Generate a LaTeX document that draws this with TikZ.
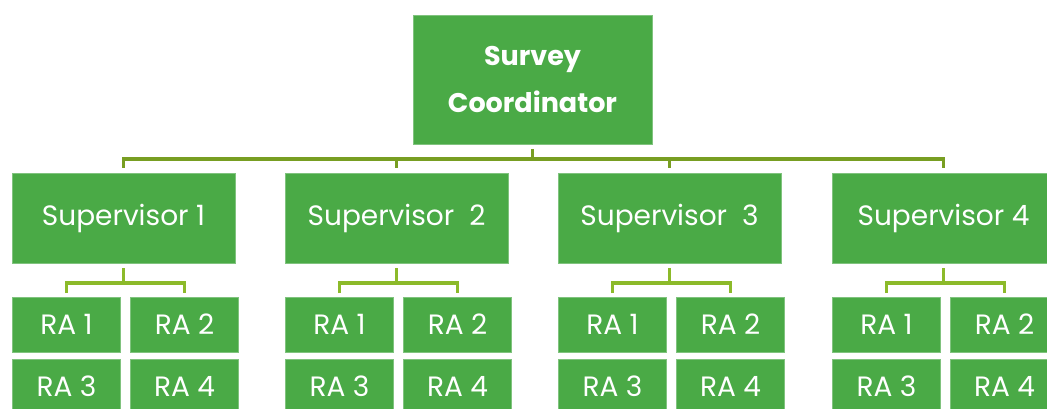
\documentclass[tikz,border=0pt]{standalone}
\usepackage{fontspec}
\setmainfont{Poppins}
\definecolor{boxgreen}{HTML}{4AAA46}
\definecolor{topline}{HTML}{789E22}
\definecolor{subline}{HTML}{8CBA2A}
\tikzset{
  box/.style={rectangle, fill=boxgreen, draw=boxgreen!70!white, line width=0.8pt, inner sep=0pt, outer sep=0pt, text=white, align=center},
  topbox/.style={box, minimum width=239pt, minimum height=129pt, font=\fontsize{27}{47}\selectfont\bfseries},
  supbox/.style={box, minimum width=223pt, minimum height=90pt, font=\fontsize{28}{32}\selectfont},
  rabox/.style={box, minimum width=108pt, minimum height=55pt, font=\fontsize{28}{30}\selectfont},
  tconn/.style={draw=topline, line width=3.2pt},
  bconn/.style={draw=subline, line width=3.2pt}
}
\begin{document}
\begin{tikzpicture}[x=1pt,y=-1pt]
\useasboundingbox (0,0) rectangle (1047,409);
\clip (0,0) rectangle (1047,409);
\node[topbox] (top) at (532.5,79.5) {Survey\\Coordinator};
\node[supbox] (s1) at (123.5,218) {Supervisor 1};
\node[supbox] (s2) at (396.5,218) {Supervisor\ \ 2};
\node[supbox] (s3) at (669.5,218) {Supervisor\ \ 3};
\node[supbox] (s4) at (943.5,218) {Supervisor 4};
\foreach \i/\c in {1/123.5,2/396.5,3/669.5,4/943.5}{
  \node[rabox] (r\i a) at (\c-57,324.5) {RA 1};
  \node[rabox] (r\i b) at (\c+61,324.5) {RA 2};
  \node[rabox] (r\i c) at (\c-57,386.5) {RA 3};
  \node[rabox] (r\i d) at (\c+61,386.5) {RA 4};
  \coordinate (b\i) at ([yshift=-20pt]s\i.south);
  \draw[bconn] ([yshift=-5pt]s\i.south) -- (b\i);
  \draw[bconn] ([yshift=4pt]r\i a.north) |- (b\i) -| ([yshift=4pt]r\i b.north);
}
\coordinate (t) at ([yshift=-15pt]top.south);
\draw[tconn] ([yshift=-5pt]top.south) -- (t);
\draw[tconn] ([yshift=5pt]s1.north) |- (t) -| ([yshift=5pt]s4.north);
\draw[tconn] ([yshift=5pt]s2.north) -- (s2.north |- t);
\draw[tconn] ([yshift=5pt]s3.north) -- (s3.north |- t);
\end{tikzpicture}
\end{document}
